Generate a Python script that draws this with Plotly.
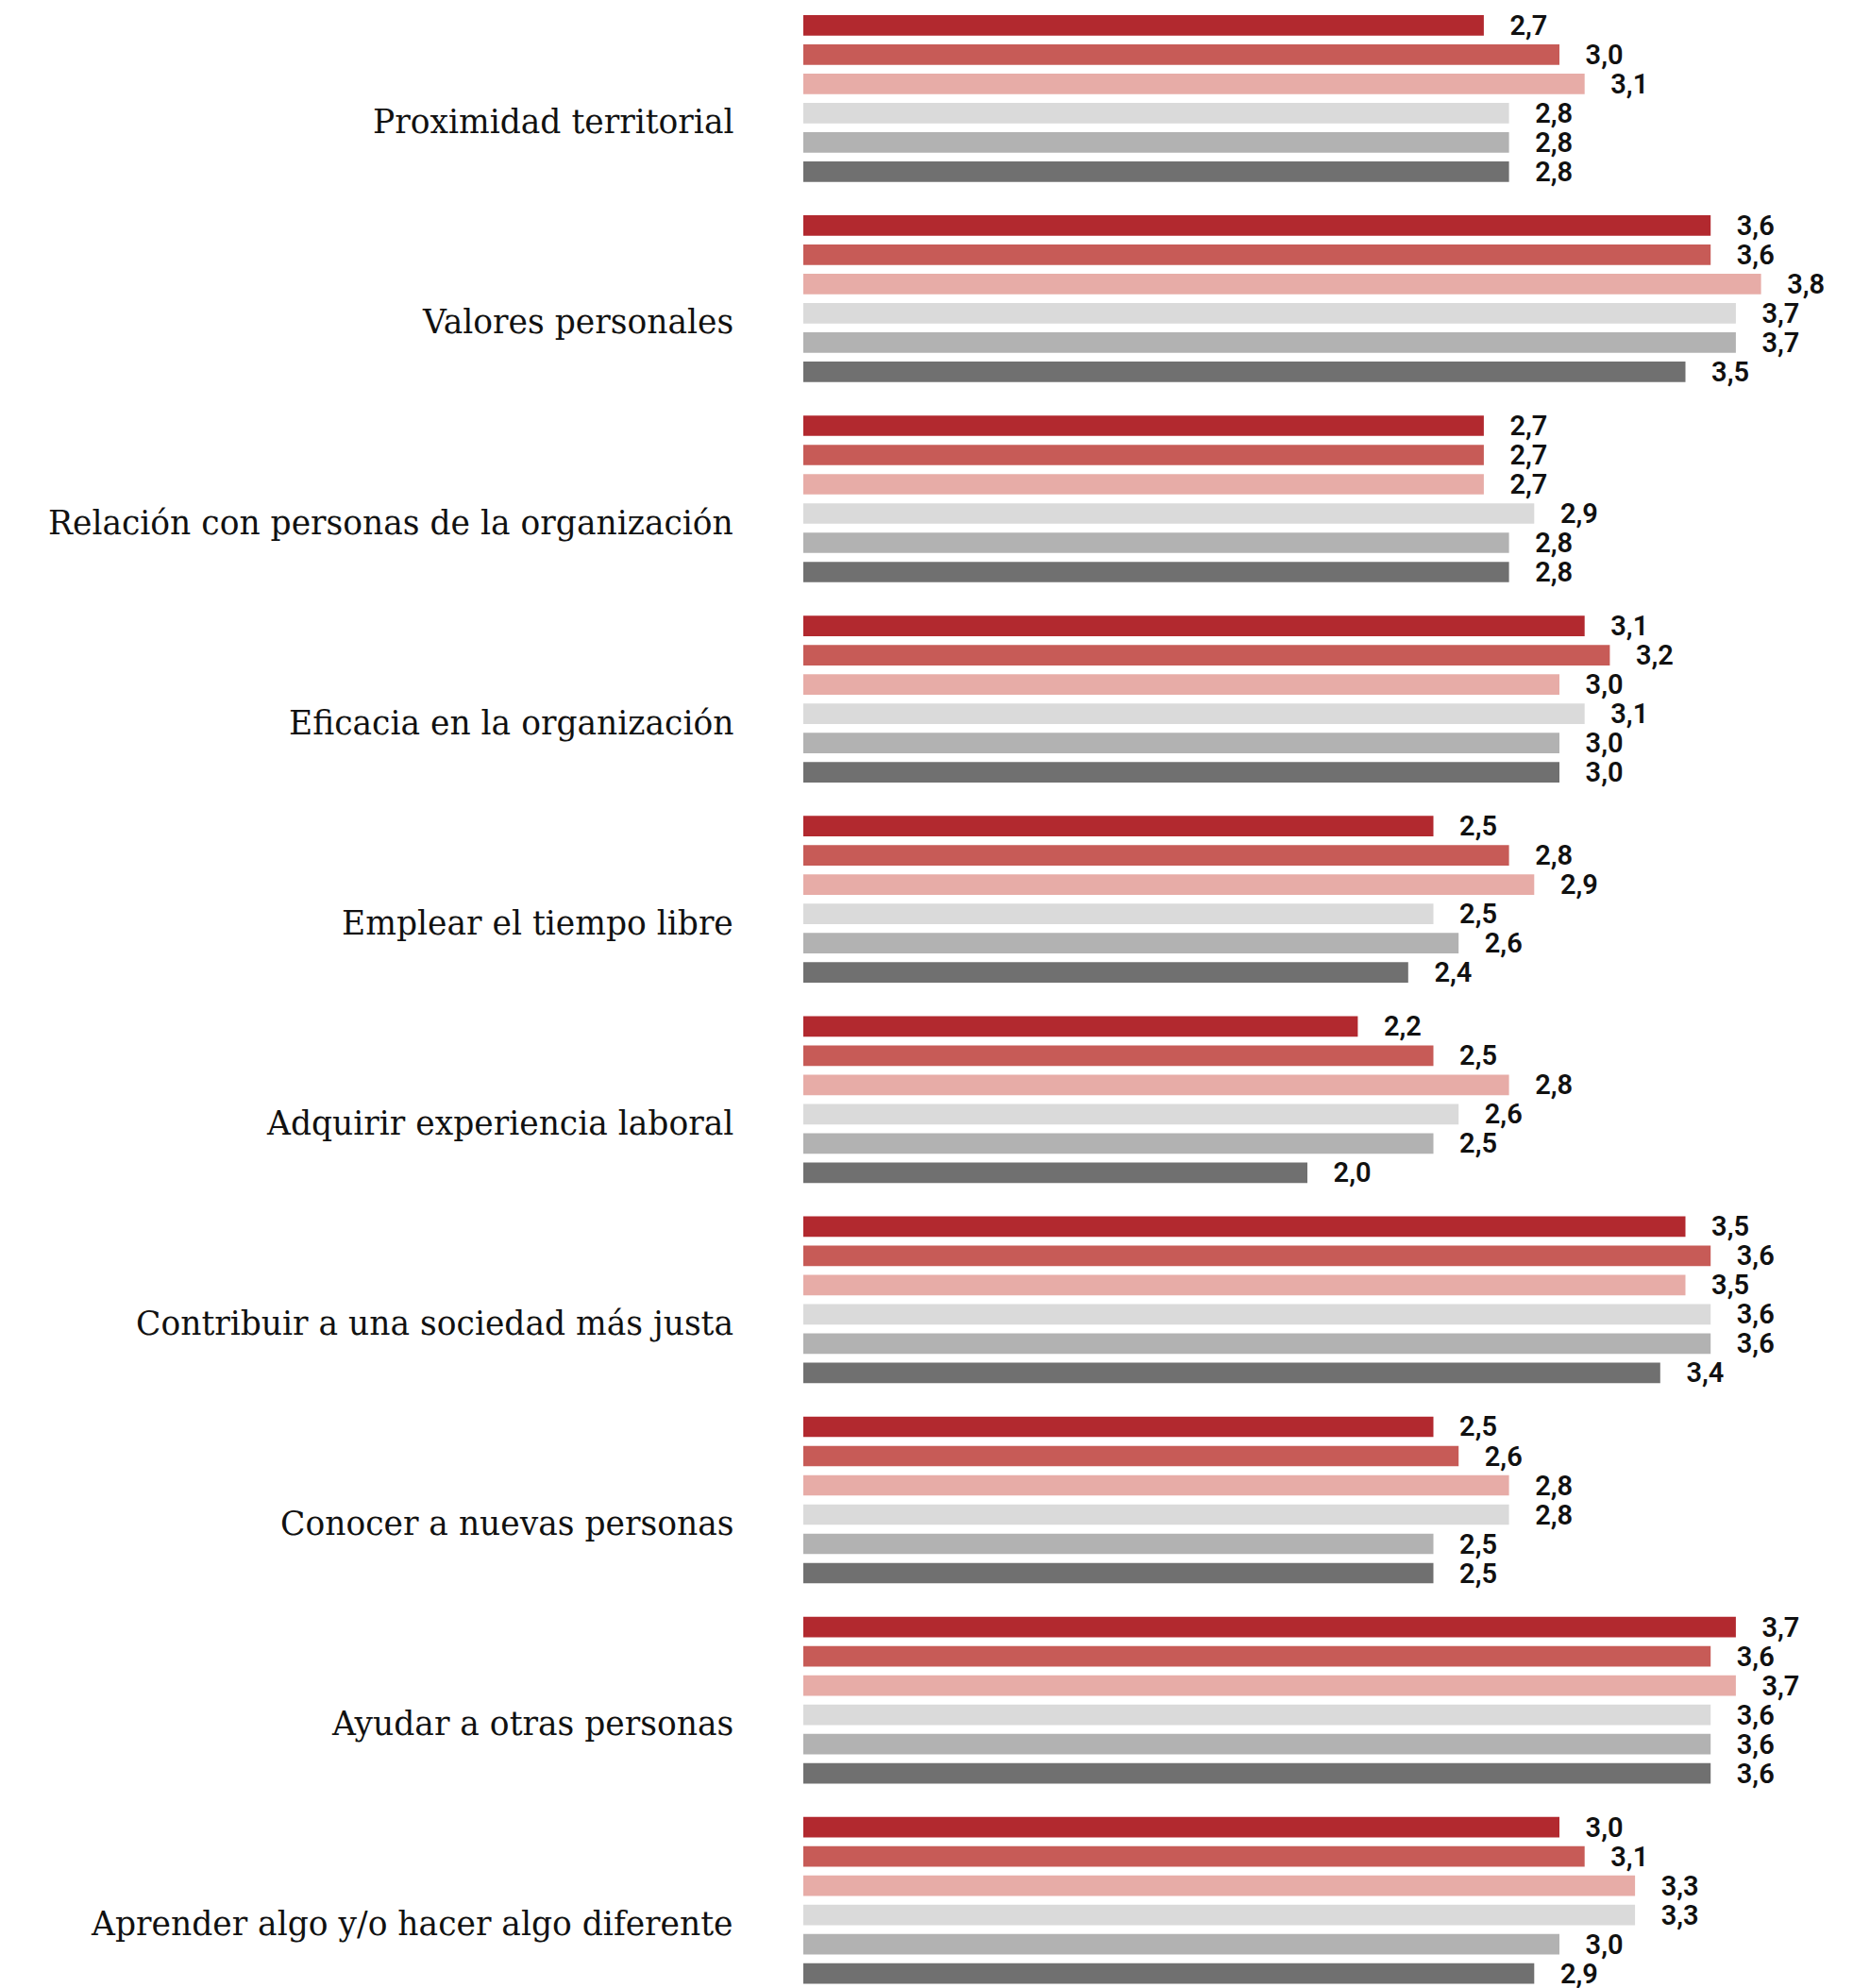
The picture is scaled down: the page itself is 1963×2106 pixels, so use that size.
import plotly.graph_objects as go

categories = [
    "Proximidad territorial",
    "Valores personales",
    "Relación con personas de la organización",
    "Eficacia en la organización",
    "Emplear el tiempo libre",
    "Adquirir experiencia laboral",
    "Contribuir a una sociedad más justa",
    "Conocer a nuevas personas",
    "Ayudar a otras personas",
    "Aprender algo y/o hacer algo diferente",
]

series_names = ["Serie 1", "Serie 2", "Serie 3", "Serie 4", "Serie 5", "Serie 6"]

serie_1 = [2.7, 3.6, 2.7, 3.1, 2.5, 2.2, 3.5, 2.5, 3.7, 3.0]
serie_2 = [3.0, 3.6, 2.7, 3.2, 2.8, 2.5, 3.6, 2.6, 3.6, 3.1]
serie_3 = [3.1, 3.8, 2.7, 3.0, 2.9, 2.8, 3.5, 2.8, 3.7, 3.3]
serie_4 = [2.8, 3.7, 2.9, 3.1, 2.5, 2.6, 3.6, 2.8, 3.6, 3.3]
serie_5 = [2.8, 3.7, 2.8, 3.0, 2.6, 2.5, 3.6, 2.5, 3.6, 3.0]
serie_6 = [2.8, 3.5, 2.8, 3.0, 2.4, 2.0, 3.4, 2.5, 3.6, 2.9]

series_values = [serie_1, serie_2, serie_3, serie_4, serie_5, serie_6]
colors = ["#b2292f", "#c75b57", "#e7aca7", "#dadada", "#b2b2b2", "#707070"]

# page body has an 8px margin; figure sized to fit the window
W, H = 1947, 2098
LEFT = 843
PX_PER_UNIT = 267.0
PITCH = 212.1          # px per category
FIRST_CENTER = 96.3    # px from figure top to first group centre

fig = go.Figure()
pad = "\u00a0\u00a0\u00a0\u200a"
for name, vals, col in zip(series_names, series_values, colors):
    fig.add_trace(go.Bar(
        name=name,
        y=categories,
        x=vals,
        orientation="h",
        marker=dict(color=col, line=dict(width=0)),
        text=[pad + f"{v:.1f}".replace(".", ",") for v in vals],
        textposition="outside",
        textfont=dict(family="Roboto", size=29, color="#111111", weight=600),
        constraintext="none",
        cliponaxis=False,
        hoverinfo="skip",
    ))

for c in categories:
    fig.add_annotation(
        x=0, y=c, xref="x", yref="y",
        text=c, showarrow=False,
        xanchor="right", yanchor="middle",
        xshift=-72, yshift=-25,
        font=dict(family="DejaVu Serif", size=34.5, color="#111111"),
    )

top = -FIRST_CENTER / PITCH
bottom = top + H / PITCH

fig.update_layout(
    width=W, height=H,
    margin=dict(l=LEFT, r=0, t=0, b=0, pad=0),
    barmode="group",
    bargap=0.123,
    bargroupgap=0.30,
    showlegend=False,
    plot_bgcolor="white",
    paper_bgcolor="white",
)
fig.update_xaxes(range=[0, (W - LEFT) / PX_PER_UNIT], visible=False, showgrid=False, zeroline=False)
fig.update_yaxes(
    type="category",
    categoryorder="array", categoryarray=categories,
    range=[bottom, top],
    showticklabels=False, showgrid=False, zeroline=False, showline=False, ticks="",
)

fig.write_html("out.html")
